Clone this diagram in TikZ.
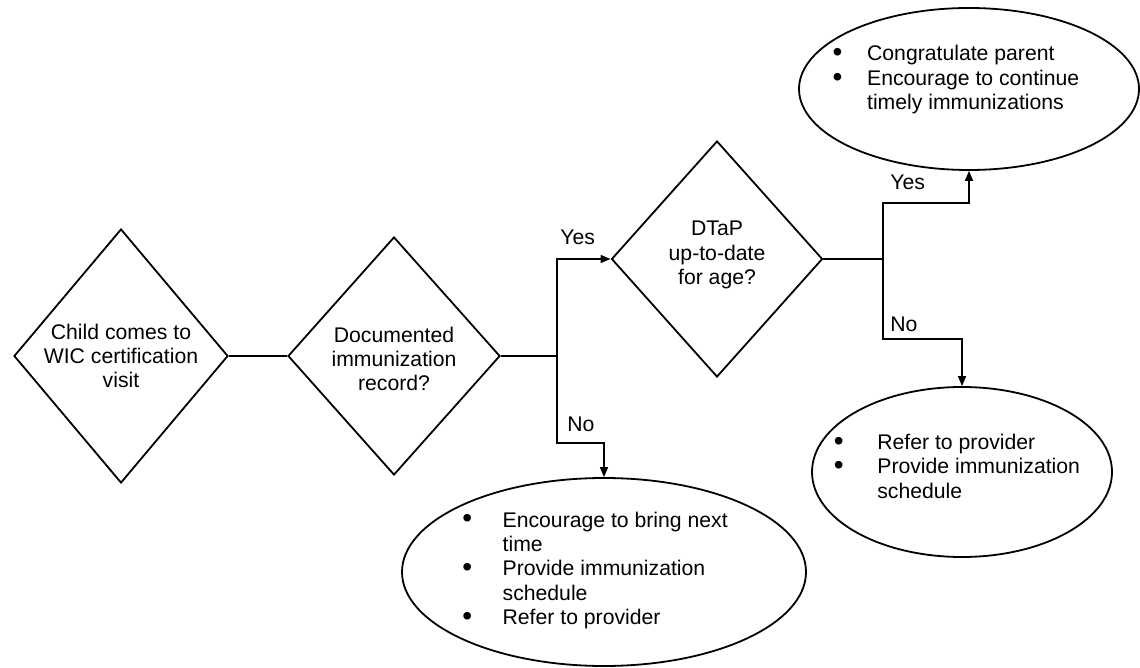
\documentclass[tikz,border=0pt]{standalone}
\usepackage{fontspec}
\setmainfont{Liberation Sans}
\usetikzlibrary{shapes.geometric,arrows.meta}
\tikzset{every node/.style={font=\fontsize{10.6}{12.2}\selectfont}}
\tikzset{decision/.style={draw,diamond,line width=0.9pt,inner sep=0pt}}
\tikzset{outcome/.style={draw,ellipse,line width=0.9pt,inner sep=0pt}}
\tikzset{flow/.style={line width=0.8pt}}
\tikzset{flowarrow/.style={flow,-{Triangle[length=5pt,width=4pt]}}}
\tikzset{branch/.style={inner sep=0pt,anchor=base west}}
\newcommand{\bulletlist}[2]{\begin{tabular}{@{}l@{\hspace{#1}}l@{}}#2\end{tabular}}
\newcommand{\bigdot}{\raisebox{-0.4pt}{\fontsize{14}{12.2}\selectfont\textbullet}}

\begin{document}
\begin{tikzpicture}[x=0.5pt,y=-0.5pt]
    \useasboundingbox (0,0) rectangle (1140,668);
    % decisions
    \node [decision,minimum width=107pt,minimum height=127pt,
        label={[align=center]center:Child comes to\\WIC certification\\visit}] (child) at (121,356) {};
    \node [decision,minimum width=106pt,minimum height=119pt,
        label={[align=center,yshift=-1.5pt]center:Documented\\immunization\\record?}] (record) at (394,356) {};
    \node [decision,minimum width=105.5pt,minimum height=118pt,
        label={[align=center,yshift=2pt]center:DTaP\\up-to-date\\for age?}] (dtap) at (717,259) {};
    % outcomes
    \node [outcome,minimum width=170pt,minimum height=81pt,
        label={[xshift=-6.5pt,yshift=4.25pt]center:{\bulletlist{12.3pt}{\bigdot & Congratulate parent\\
        \bigdot & Encourage to continue\\ & timely immunizations}}}] (congrats) at (969,89) {};
    \node [outcome,minimum width=202pt,minimum height=94pt,
        label={[xshift=-4.5pt,yshift=0.5pt]center:{\bulletlist{15.3pt}{\bigdot & Encourage to bring next\\ & time\\
        \bigdot & Provide immunization\\ & schedule\\ \bigdot & Refer to provider}}}] (bring) at (604,572) {};
    \node [outcome,minimum width=150pt,minimum height=85pt,
        label={[xshift=-2.5pt,yshift=1.5pt]center:{\bulletlist{16.8pt}{\bigdot & Refer to provider\\
        \bigdot & Provide immunization\\ & schedule}}}] (refer) at (962,472) {};
    % branch points
    \coordinate (split1) at (557,356);
    \coordinate (nosplit1) at (557,443);
    \coordinate (split2) at (883,259);
    \coordinate (yessplit2) at (883,203);
    \coordinate (nosplit2) at (883,339);
    \draw [flow] (child) -- (record);
    \draw [flow] (record) -- (split1);
    \draw [flowarrow] (split1) |- (dtap);
    \draw [flowarrow] (split1) -- (nosplit1) -| (bring);
    \draw [flow] (dtap) -- (split2);
    \draw [flowarrow] (split2) -- (yessplit2) -| (congrats);
    \draw [flowarrow] (split2) -- (nosplit2) -| (refer);
    \node [branch] (yes1) at (560,245) {Yes};
    \node [branch] (no1) at (567,431) {No};
    \node [branch] (yes2) at (890,190) {Yes};
    \node [branch] (no2) at (890,331) {No};
\end{tikzpicture}
\end{document}
